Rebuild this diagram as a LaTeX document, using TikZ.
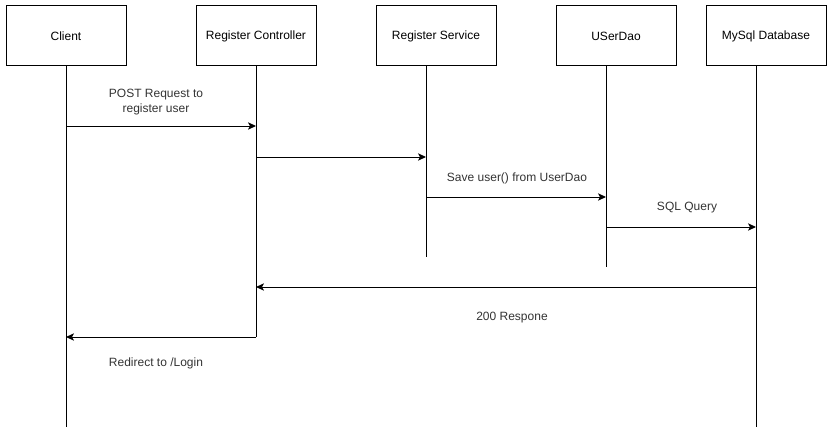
\documentclass[tikz,border=0pt]{standalone}
\usepackage{fontspec}
\setmainfont{Liberation Sans}
\usetikzlibrary{positioning, arrows.meta, calc}

\begin{document}
\begin{tikzpicture}[
  x=0.75pt, y=0.75pt,
  actor/.style={draw, rectangle, minimum width=90pt, minimum height=45pt, inner sep=0pt, outer sep=0pt, font=\fontsize{9}{11}\selectfont},
  msg/.style={-{Stealth[length=6pt, width=5.5pt, inset=1.5pt]}},
  lbl/.style={font=\fontsize{9}{11}\selectfont, text=black!80, align=center, inner sep=0pt},
  line width=0.75pt
]
  \useasboundingbox (0,0) rectangle (831,433);

  % 1. Participants (top row)
  \node[actor] (client) at (66,397) {Client};
  \node[actor, right=52.5pt of client] (ctrl) {Register Controller};
  \node[actor, right=45pt of ctrl] (service) {Register Service};
  \node[actor, right=45pt of service] (dao) {USerDao};
  \node[actor, right=22.5pt of dao] (db) {MySql Database};

  % 2. Lifelines
  \coordinate (clientTop) at (client.south);
  \coordinate (ctrlTop) at (ctrl.south);
  \coordinate[xshift=-7.5pt] (serviceTop) at (service.south);
  \coordinate[xshift=-7.5pt] (daoTop) at (dao.south);
  \coordinate[xshift=-7.5pt] (dbTop) at (db.south);

  \coordinate (clientEnd) at (clientTop |- 0,6);
  \coordinate (ctrlEnd) at (ctrlTop |- 0,96);
  \coordinate (serviceEnd) at (serviceTop |- 0,176);
  \coordinate (daoEnd) at (daoTop |- 0,166);
  \coordinate (dbEnd) at (dbTop |- 0,6);

  \draw (clientTop) -- (clientEnd);
  \draw (ctrlTop) -- (ctrlEnd);
  \draw (serviceTop) -- (serviceEnd);
  \draw (daoTop) -- (daoEnd);
  \draw (dbTop) -- (dbEnd);

  % 3. Messages
  \draw[msg] (clientTop |- 0,307) -- (ctrlTop |- 0,307);
  \draw[msg] (ctrlTop |- 0,276) -- (serviceTop |- 0,276);
  \draw[msg] (serviceTop |- 0,236) -- (daoTop |- 0,236);
  \draw[msg] (daoTop |- 0,206) -- (dbTop |- 0,206);
  \draw[msg] (dbTop |- 0,146) -- (ctrlTop |- 0,146);
  \draw[msg] (ctrlEnd) -- (clientTop |- ctrlEnd);

  % 4. Message labels
  \node[lbl] (postLbl) at (156,331) {POST Request to\\register user};
  \node[lbl] (saveLbl) at (517,255) {Save user() from UserDao};
  \node[lbl] (sqlLbl) at (687,225) {SQL Query};
  \node[lbl] (okLbl) at (512,115) {200 Respone};
  \node[lbl] (redirLbl) at (156,70) {Redirect to /Login};

\end{tikzpicture}
\end{document}
